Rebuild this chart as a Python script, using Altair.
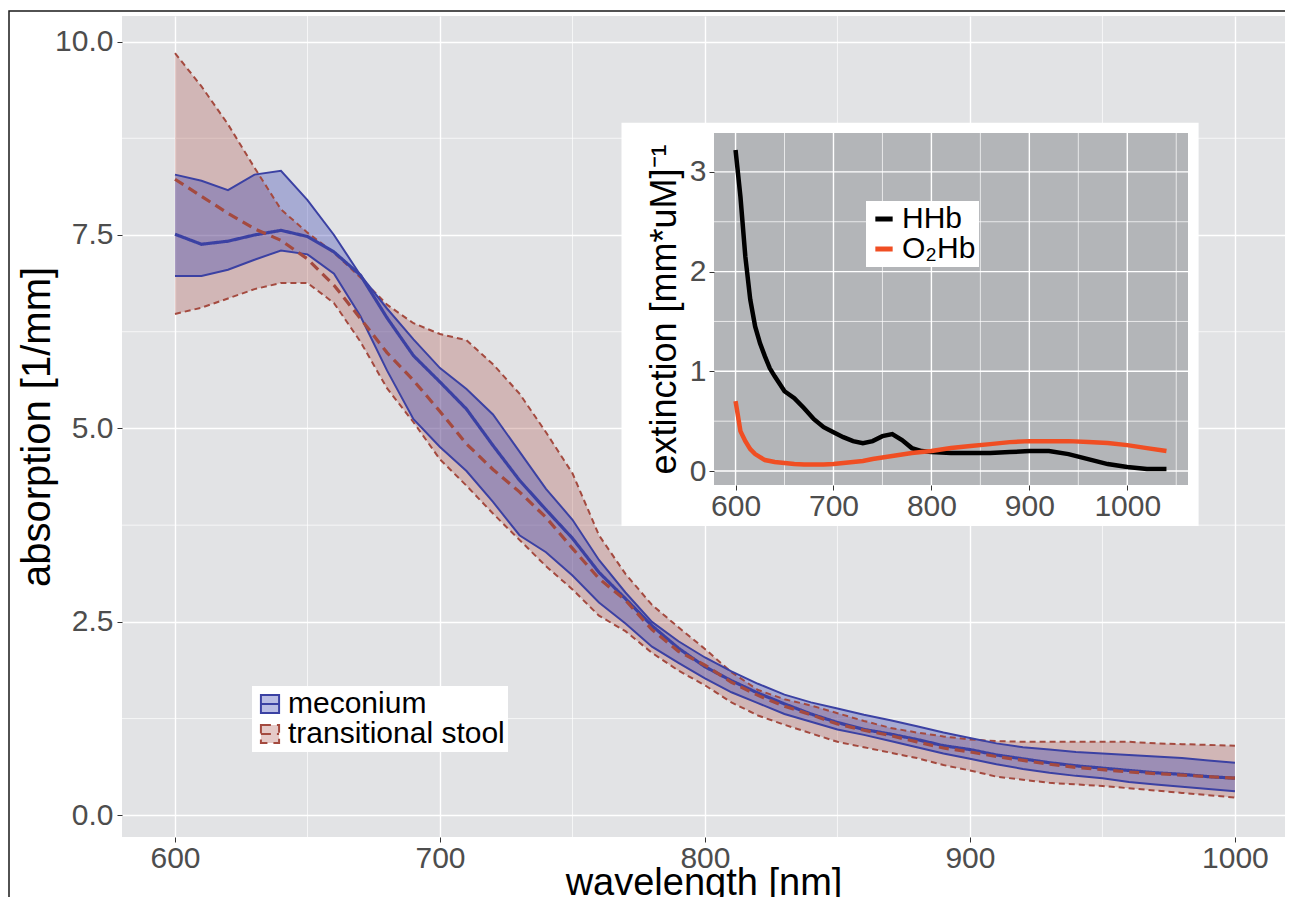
import altair as alt
import pandas as pd

FONT = "Liberation Sans"

# ---------------- main chart data ----------------
WAVELENGTH = list(range(600, 1001, 10))
GROUPS = ["meconium", "transitional stool"]

MECONIUM_LOW = [6.97, 6.97, 7.05, 7.18, 7.30, 7.25, 7.00, 6.45, 5.75, 5.12,
                4.76, 4.45, 4.05, 3.62, 3.40, 3.10, 2.75, 2.48, 2.18, 1.97,
                1.77, 1.59, 1.45, 1.31, 1.21, 1.11, 1.04, 0.96, 0.88, 0.80,
                0.73, 0.66, 0.60, 0.55, 0.51, 0.48, 0.43, 0.40, 0.37, 0.34, 0.31]
MECONIUM_MEAN = [7.51, 7.38, 7.42, 7.50, 7.56, 7.48, 7.28, 6.98, 6.43, 5.94,
                 5.60, 5.25, 4.78, 4.33, 3.95, 3.58, 3.14, 2.80, 2.45, 2.16,
                 1.92, 1.74, 1.58, 1.44, 1.31, 1.20, 1.11, 1.05, 0.98, 0.90,
                 0.85, 0.78, 0.73, 0.68, 0.64, 0.61, 0.58, 0.55, 0.53, 0.50, 0.48]
MECONIUM_HIGH = [8.28, 8.20, 8.08, 8.28, 8.33, 7.95, 7.50, 6.98, 6.55, 6.15,
                 5.78, 5.51, 5.18, 4.70, 4.22, 3.82, 3.30, 2.88, 2.50, 2.25,
                 2.04, 1.86, 1.70, 1.56, 1.46, 1.38, 1.30, 1.23, 1.15, 1.07,
                 1.00, 0.93, 0.88, 0.85, 0.82, 0.80, 0.78, 0.76, 0.74, 0.71, 0.68]
TRANSITIONAL_LOW = [6.48, 6.56, 6.68, 6.80, 6.88, 6.88, 6.62, 6.12, 5.52, 5.08,
                    4.60, 4.26, 3.90, 3.56, 3.22, 2.92, 2.58, 2.38, 2.10, 1.87,
                    1.68, 1.46, 1.29, 1.17, 1.06, 0.95, 0.88, 0.81, 0.74, 0.65,
                    0.58, 0.50, 0.46, 0.42, 0.40, 0.38, 0.35, 0.32, 0.29, 0.26, 0.23]
TRANSITIONAL_MEAN = [8.22, 8.00, 7.78, 7.58, 7.43, 7.19, 6.85, 6.42, 5.98, 5.62,
                     5.22, 4.80, 4.47, 4.18, 3.85, 3.45, 3.06, 2.78, 2.40, 2.12,
                     1.94, 1.72, 1.55, 1.41, 1.30, 1.18, 1.10, 1.03, 0.95, 0.87,
                     0.82, 0.76, 0.71, 0.66, 0.62, 0.59, 0.56, 0.54, 0.52, 0.50, 0.48]
TRANSITIONAL_HIGH = [9.85, 9.42, 8.93, 8.37, 7.83, 7.53, 7.27, 6.95, 6.60, 6.36,
                     6.22, 6.14, 5.83, 5.45, 4.95, 4.42, 3.62, 3.12, 2.72, 2.43,
                     2.15, 1.85, 1.62, 1.50, 1.42, 1.32, 1.22, 1.13, 1.07, 1.02,
                     0.98, 0.96, 0.95, 0.95, 0.95, 0.95, 0.95, 0.93, 0.92, 0.91, 0.90]

MAIN_X_TICKS = [600, 700, 800, 900, 1000]
MAIN_X_MINOR = [650, 750, 850, 950]
MAIN_Y_TICKS = [0, 2.5, 5, 7.5, 10]
MAIN_Y_MINOR = [1.25, 3.75, 6.25, 8.75]

# ---------------- inset data ----------------
INSET_WAVELENGTH = [600, 605, 610, 615, 620, 625, 630, 635, 640,
                    650, 660, 670, 680, 690, 700, 710, 720, 730, 740, 750, 760, 770, 780, 790, 800,
                    820, 840, 860, 880, 900, 920, 940, 960, 980, 1000, 1020, 1040]
HHB = [3.22, 2.75, 2.15, 1.72, 1.45, 1.28, 1.15, 1.03, 0.95,
       0.80, 0.73, 0.63, 0.52, 0.44, 0.39, 0.34, 0.30, 0.28, 0.30, 0.35, 0.37, 0.31, 0.23, 0.20, 0.19,
       0.18, 0.18, 0.18, 0.19, 0.20, 0.20, 0.17, 0.12, 0.07, 0.04, 0.02, 0.02]
O2HB = [0.70, 0.40, 0.30, 0.22, 0.17, 0.14, 0.11, 0.10, 0.09,
        0.08, 0.07, 0.065, 0.065, 0.065, 0.07, 0.08, 0.09, 0.10, 0.12, 0.135, 0.15, 0.165, 0.18, 0.19, 0.20,
        0.23, 0.25, 0.27, 0.29, 0.30, 0.30, 0.30, 0.29, 0.28, 0.26, 0.23, 0.20]
CHROMOPHORES = ["HHb", "O\u2082Hb"]

INSET_X_TICKS = [600, 700, 800, 900, 1000]
INSET_X_MINOR = [650, 750, 850, 950, 1050]
INSET_Y_TICKS = [0, 1, 2, 3]
INSET_Y_MINOR = [0.5, 1.5, 2.5]

# ---------------- styling ----------------
BLUE = "#3b41a3"
BROWN = "#a44a3f"
BLUE_FILL = "rgba(64, 72, 180, 0.36)"
BROWN_FILL = "rgba(168, 80, 72, 0.30)"
PANEL = "#e2e3e5"
INSET_PANEL = "#b3b5b8"
TICK_LABEL = "#4d4d4d"

W, H = 1163, 821
MAIN_X_DOMAIN = [580, 1018.9]
MAIN_Y_DOMAIN = [-0.28, 10.33]
INSET_X_DOMAIN = [578, 1062]
INSET_Y_DOMAIN = [-0.14, 3.39]

band_df = pd.DataFrame({
    "wl": WAVELENGTH * 2,
    "group": [GROUPS[0]] * len(WAVELENGTH) + [GROUPS[1]] * len(WAVELENGTH),
    "lo": MECONIUM_LOW + TRANSITIONAL_LOW,
    "mean": MECONIUM_MEAN + TRANSITIONAL_MEAN,
    "hi": MECONIUM_HIGH + TRANSITIONAL_HIGH,
})
chrom_df = pd.DataFrame({
    "wl": INSET_WAVELENGTH * 2,
    "chrom": [CHROMOPHORES[0]] * len(INSET_WAVELENGTH) + [CHROMOPHORES[1]] * len(INSET_WAVELENGTH),
    "value": HHB + O2HB,
})

# ---------------- scales & axes ----------------
MX = alt.Scale(domain=MAIN_X_DOMAIN, nice=False, zero=False)
MY = alt.Scale(domain=MAIN_Y_DOMAIN, nice=False, zero=False)
MAIN_X_AXIS = alt.Axis(values=MAIN_X_TICKS, format="d", grid=True, gridColor="white", gridWidth=1.4,
                       domain=False, tickColor="#333333", tickSize=5, labelFontSize=30,
                       labelColor=TICK_LABEL, labelPadding=1, labelFlush=False, labelOverlap=False,
                       title="wavelength [nm]", titleFontSize=38, titleColor="black",
                       titleFontWeight="normal", titlePadding=-9)
MAIN_Y_AXIS = alt.Axis(values=MAIN_Y_TICKS, format=".1f", grid=True, gridColor="white", gridWidth=1.4,
                       domain=False, tickColor="#333333", tickSize=5, labelFontSize=30,
                       labelColor=TICK_LABEL, labelPadding=4, labelFlush=False, labelOverlap=False,
                       title="absorption [1/mm]", titleFontSize=40, titleColor="black",
                       titleFontWeight="normal", titlePadding=-3)

IX = alt.Scale(domain=INSET_X_DOMAIN, range=[592, 1066], nice=False, zero=False)
IY = alt.Scale(domain=INSET_Y_DOMAIN, range=[469, 117], nice=False, zero=False)
INSET_X_AXIS = alt.Axis(orient="bottom", offset=-352, values=INSET_X_TICKS, format="d", grid=False,
                        domain=False, tickColor="#333333", tickSize=5, labelFontSize=30,
                        labelColor=TICK_LABEL, labelPadding=1, labelFlush=False, labelOverlap=False,
                        title=None, zindex=2)
INSET_Y_AXIS = alt.Axis(orient="left", offset=-592, values=INSET_Y_TICKS, format="d", grid=False,
                        domain=False, tickColor="#333333", tickSize=5, labelFontSize=30,
                        labelColor=TICK_LABEL, labelPadding=3, labelFlush=False, labelOverlap=False,
                        title="extinction [mm*uM]\u207b\u00b9", titleFontSize=36, titleColor="black",
                        titleFontWeight="normal", titlePadding=6, zindex=2)

MAIN_LEGEND = alt.Legend(title=None, orient="none", legendX=130, legendY=670, fillColor="white",
                         padding=3, labelFontSize=30, labelColor="black", labelOffset=3, labelLimit=500,
                         symbolType="M-1,-1H1V1H-1Z M-1,0H1", symbolSize=330, symbolStrokeWidth=2,
                         symbolOpacity=1, rowPadding=-8)
INSET_LEGEND = alt.Legend(title=None, orient="none", legendX=744, legendY=185, fillColor="white",
                          padding=3, labelFontSize=30, labelColor="black", labelOffset=3, labelLimit=300,
                          symbolType="stroke", symbolSize=300, symbolStrokeWidth=5,
                          symbolOpacity=1, rowPadding=-7)

fill_scale = alt.Scale(domain=GROUPS, range=[BLUE_FILL, BROWN_FILL])
stroke_scale = alt.Scale(domain=GROUPS, range=[BLUE, BROWN])
dash_scale = alt.Scale(domain=GROUPS, range=[[1, 0], [10, 6]])

mx = lambda f: alt.X(f, type="quantitative", scale=MX, axis=MAIN_X_AXIS)
my = lambda f: alt.Y(f, type="quantitative", scale=MY, axis=MAIN_Y_AXIS)

# ---------------- main layers ----------------
minor_x = alt.Chart(pd.DataFrame({"pos": MAIN_X_MINOR})).mark_rule(color="white", strokeWidth=0.7).encode(
    x=mx("pos"))
minor_y = alt.Chart(pd.DataFrame({"pos": MAIN_Y_MINOR})).mark_rule(color="white", strokeWidth=0.7).encode(
    y=my("pos"))

band_base = alt.Chart(band_df)
areas = [
    band_base.transform_filter(alt.datum.group == g).mark_area().encode(
        x=mx("wl"), y=my("lo"), y2="hi",
        fill=alt.Fill("group:N", scale=fill_scale, legend=MAIN_LEGEND))
    for g in [GROUPS[1], GROUPS[0]]
]
mec_bounds = band_base.transform_filter(alt.datum.group == GROUPS[0]).transform_fold(
    ["lo", "hi"], as_=["kind", "value"]).mark_line(color=BLUE, strokeWidth=2).encode(
    x=mx("wl"), y=my("value"), detail="kind:N")
tr_bounds = band_base.transform_filter(alt.datum.group == GROUPS[1]).transform_fold(
    ["lo", "hi"], as_=["kind", "value"]).mark_line(color=BROWN, strokeWidth=2, strokeDash=[6, 4]).encode(
    x=mx("wl"), y=my("value"), detail="kind:N")
means = band_base.mark_line(strokeWidth=3.2).encode(
    x=mx("wl"), y=my("mean"),
    stroke=alt.Stroke("group:N", scale=stroke_scale, legend=MAIN_LEGEND),
    strokeDash=alt.StrokeDash("group:N", scale=dash_scale, legend=MAIN_LEGEND))

main = alt.layer(minor_x, minor_y, *areas, tr_bounds, mec_bounds, means)

# ---------------- inset layers ----------------
one = alt.Data(values=[{}])
ix = lambda f: alt.X(f, type="quantitative", scale=IX, axis=INSET_X_AXIS)
iy = lambda f: alt.Y(f, type="quantitative", scale=IY, axis=INSET_Y_AXIS)

white_box = alt.Chart(one).mark_rect(fill="white").encode(
    x=alt.value(499.5), x2=alt.value(1076.6), y=alt.value(106.7), y2=alt.value(510))
inset_panel = alt.Chart(one).mark_rect(fill=INSET_PANEL).encode(
    x=alt.XDatum(INSET_X_DOMAIN[0], type="quantitative", scale=IX, axis=INSET_X_AXIS),
    x2=alt.X2Datum(INSET_X_DOMAIN[1]),
    y=alt.YDatum(INSET_Y_DOMAIN[0], type="quantitative", scale=IY, axis=INSET_Y_AXIS),
    y2=alt.Y2Datum(INSET_Y_DOMAIN[1]))


def vgrid(vals, w):
    return alt.Chart(pd.DataFrame({"pos": vals})).mark_rule(color="white", strokeWidth=w).encode(
        x=ix("pos"),
        y=alt.YDatum(INSET_Y_DOMAIN[0], type="quantitative", scale=IY, axis=INSET_Y_AXIS),
        y2=alt.Y2Datum(INSET_Y_DOMAIN[1]))


def hgrid(vals, w):
    return alt.Chart(pd.DataFrame({"pos": vals})).mark_rule(color="white", strokeWidth=w).encode(
        y=iy("pos"),
        x=alt.XDatum(INSET_X_DOMAIN[0], type="quantitative", scale=IX, axis=INSET_X_AXIS),
        x2=alt.X2Datum(INSET_X_DOMAIN[1]))


inset_lines = alt.Chart(chrom_df).mark_line(strokeWidth=4.5).encode(
    x=ix("wl"), y=iy("value"),
    color=alt.Color("chrom:N", scale=alt.Scale(domain=CHROMOPHORES, range=["black", "#f04e23"]),
                    legend=INSET_LEGEND))

inset = alt.layer(white_box, inset_panel, vgrid(INSET_X_MINOR, 0.7), hgrid(INSET_Y_MINOR, 0.7),
                  vgrid(INSET_X_TICKS, 1.4), hgrid(INSET_Y_TICKS, 1.4), inset_lines)

frame = alt.Chart(one).mark_rect(fill="transparent", stroke="#1a1a1a", strokeWidth=1.5).encode(
    x=alt.value(-113), x2=alt.value(1200), y=alt.value(-5), y2=alt.value(1000))

chart = alt.layer(main, inset, frame).resolve_scale(
    x="independent", y="independent"
).properties(
    width=W, height=H,
    padding={"left": 114, "top": 8, "right": 0, "bottom": 60},
    autosize=alt.AutoSizeParams(type="none"),
).configure_view(fill=PANEL, strokeWidth=0).configure_axis(
    labelFont=FONT, titleFont=FONT
).configure_legend(labelFont=FONT)

chart.save("out.html", embed_options={"renderer": "svg", "actions": False})
